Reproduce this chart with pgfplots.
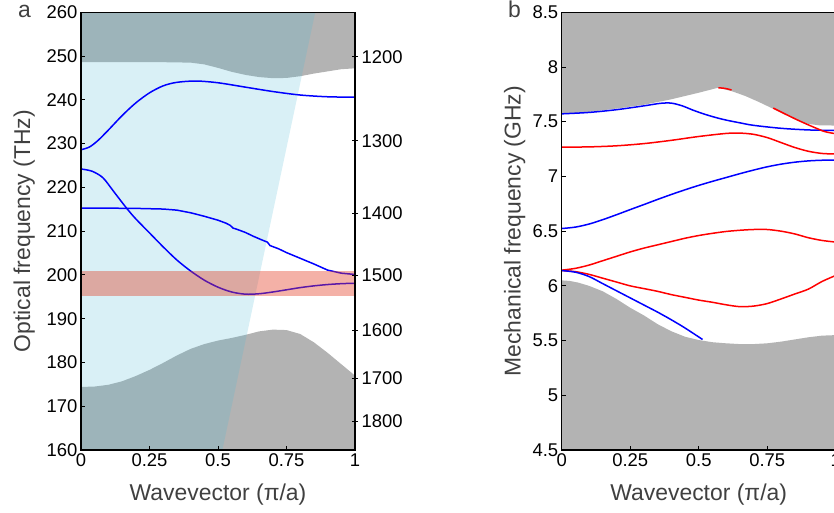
\documentclass[border=0pt]{standalone}
\usepackage{fontspec}
\setmainfont{Liberation Sans}
\usepackage{pgfplots}
\pgfplotsset{compat=1.18}
\definecolor{lcone}{RGB}{82,187,214}
\definecolor{greyc}{RGB}{179,179,179}
\definecolor{bandc}{RGB}{227,60,35}
\definecolor{labc}{RGB}{64,64,64}
\definecolor{myblue}{RGB}{0,0,255}
\definecolor{myred}{RGB}{255,0,0}
\pgfplotsset{
  base/.style={
    scale only axis, width=274bp, height=437.7bp,
    xmin=0, xmax=1,
    axis on top,
    axis line style={line width=1.5bp, black},
    every tick/.style={black, line width=1bp},
    major tick length=4bp,
    tick align=inside,
    xtick pos=bottom, ytick pos=left,
    xtick={0,0.25,0.5,0.75,1},
    xticklabels={0,0.25,0.5,0.75,1},
    tick label style={font=\fontsize{18.5}{20}\selectfont, black},
    label style={font=\fontsize{23}{26}\selectfont, text=labc},
    /pgf/number format/assume math mode=true,
    xlabel={Wavevector (π/a)},
    xlabel style={at={(axis description cs:0.5,-0.1165)}, anchor=base},
    clip=true,
  },
  curve/.style={line width=1.5bp, smooth},
}
\begin{document}
\begin{tikzpicture}
\useasboundingbox (0,0) rectangle (834bp,513bp);
% ---------------- panel a ----------------
\begin{axis}[base, at={(81bp,63bp)}, anchor=south west,
  ymin=160, ymax=260, ytick={160,170,...,260},
  ylabel={Optical frequency (THz)},
  ylabel style={at={(axis description cs:-0.1861,0.5)}, anchor=base}]
\addplot[fill=greyc, draw=none] coordinates {(0,260)(0,248.6)(0.3,248.6)(0.4,248.5)(0.45,248.1)(0.5,247.3)(0.55,246.4)(0.6,245.7)(0.65,245.2)(0.7,244.95)(0.75,245.0)(0.8,245.4)(0.85,246.0)(0.9,246.5)(0.95,247.0)(1,247.2)(1,260)};
\addplot[fill=greyc, draw=none] coordinates {(0,160)(0,174.4)(0.05,174.5)(0.1,174.9)(0.15,175.7)(0.2,176.9)(0.25,178.3)(0.3,179.9)(0.35,181.6)(0.4,183.1)(0.45,184.2)(0.5,185.0)(0.55,185.6)(0.6,186.3)(0.65,187.1)(0.7,187.5)(0.75,187.4)(0.8,186.5)(0.85,184.6)(0.9,182.2)(0.95,179.6)(1,177.0)(1,160)};
\addplot[fill=lcone, fill opacity=0.22, draw=none] coordinates {(0,160)(0.516,160)(0.855,260)(0,260)};
\addplot[curve, myblue] coordinates {(0,228.6)(0.03,229.2)(0.06,230.6)(0.1,233.1)(0.15,236.4)(0.2,239.3)(0.25,241.6)(0.3,243.2)(0.35,244.0)(0.42,244.3)(0.5,243.9)(0.6,242.9)(0.7,241.9)(0.8,241.1)(0.9,240.7)(1,240.6)};
\addplot[curve, myblue] coordinates {(0,224.2)(0.04,223.7)(0.08,222.2)(0.12,219.0)(0.167,215.2)(0.2,212.8)(0.25,209.6)(0.3,206.4)(0.35,203.4)(0.4,200.9)(0.45,198.8)(0.5,197.2)(0.55,196.1)(0.6,195.6)(0.65,195.7)(0.7,196.1)(0.75,196.6)(0.8,197.1)(0.85,197.5)(0.9,197.8)(0.95,198.0)(1,198.1)};
\addplot[line width=1.5bp, myblue] coordinates {(0,215.25)(0.1,215.25)(0.2,215.2)(0.3,215.05)(0.35,214.8)(0.4,214.2)(0.45,213.4)(0.5,212.5)(0.53,211.8)(0.545,211.3)(0.555,210.7)(0.57,210.4)(0.6,209.7)(0.63,208.8)(0.66,208.0)(0.68,207.5)(0.69,206.7)(0.72,206.0)(0.75,205.1)(0.8,203.8)(0.85,202.5)(0.9,201.1)(0.95,200.4)(1,200.1)};
\addplot[fill=bandc, fill opacity=0.4, draw=none] coordinates {(0,195.2)(1,195.2)(1,200.8)(0,200.8)};
\node[rotate=-90, anchor=base, font=\fontsize{23}{26}\selectfont, text=labc] at (axis description cs:1.1861,0.5) {Wavelength (nm)};
\end{axis}
% right wavelength axis
\begin{axis}[scale only axis, width=274bp, height=437.7bp, at={(81bp,63bp)}, anchor=south west,
  xmin=0, xmax=1, ymin=160, ymax=260,
  axis x line=none, axis y line*=right,
  axis line style={line width=1.5bp, black},
  every tick/.style={black, line width=1bp},
  major tick length=6bp, tick align=center,
  ytick={249.827,230.610,214.137,199.862,187.370,176.348,166.551},
  yticklabels={1200,1300,1400,1500,1600,1700,1800},
  tick label style={font=\fontsize{18.5}{20}\selectfont, black},
  /pgf/number format/assume math mode=true]
\addplot[draw=none] coordinates {(0,200)};
\end{axis}
% ---------------- panel b ----------------
\begin{axis}[base, at={(561.7bp,63bp)}, anchor=south west,
  ymin=4.5, ymax=8.5, ytick={4.5,5,5.5,6,6.5,7,7.5,8,8.5},
  yticklabels={4.5,5,5.5,6,6.5,7,7.5,8,8.5},
  ylabel={Mechanical frequency (GHz)},
  ylabel style={at={(axis description cs:-0.1496,0.5)}, anchor=base}]
\addplot[fill=greyc, draw=none] coordinates {(0,8.5)(0,7.57)(0.1,7.59)(0.2,7.62)(0.3,7.655)(0.4,7.705)(0.5,7.765)(0.57,7.81)(0.62,7.78)(0.67,7.735)(0.72,7.68)(0.77,7.62)(0.82,7.56)(0.86,7.51)(0.9,7.48)(0.94,7.467)(1,7.465)(1,8.5)};
\addplot[fill=greyc, draw=none] coordinates {(0,4.5)(0,6.05)(0.03,6.045)(0.06,6.03)(0.1,6.0)(0.15,5.95)(0.2,5.88)(0.25,5.80)(0.3,5.73)(0.35,5.65)(0.4,5.585)(0.45,5.535)(0.5,5.505)(0.55,5.485)(0.6,5.475)(0.65,5.468)(0.7,5.468)(0.75,5.475)(0.8,5.49)(0.85,5.51)(0.9,5.53)(0.95,5.545)(1,5.55)(1,4.5)};
\addplot[curve, myblue] coordinates {(0,7.572)(0.1,7.585)(0.2,7.61)(0.3,7.645)(0.36,7.668)(0.4,7.67)(0.44,7.645)(0.48,7.605)(0.52,7.57)(0.56,7.54)(0.6,7.515)(0.65,7.49)(0.7,7.467)(0.8,7.44)(0.9,7.425)(1,7.42)};
\addplot[curve, myred] coordinates {(0.572,7.81)(0.595,7.805)(0.62,7.79)};
\addplot[curve, myred] coordinates {(0.772,7.625)(0.82,7.565)(0.87,7.505)(0.92,7.45)(0.96,7.41)(1,7.39)};
\addplot[curve, myred] coordinates {(0,7.268)(0.1,7.27)(0.2,7.28)(0.3,7.30)(0.4,7.33)(0.5,7.365)(0.6,7.393)(0.65,7.396)(0.7,7.385)(0.75,7.355)(0.8,7.31)(0.85,7.265)(0.9,7.23)(0.95,7.21)(1,7.205)};
\addplot[curve, myblue] coordinates {(0,6.524)(0.05,6.537)(0.1,6.565)(0.15,6.605)(0.2,6.65)(0.25,6.697)(0.3,6.743)(0.35,6.79)(0.4,6.835)(0.45,6.878)(0.5,6.918)(0.55,6.955)(0.6,6.99)(0.65,7.025)(0.7,7.058)(0.75,7.088)(0.8,7.112)(0.85,7.13)(0.9,7.142)(0.95,7.148)(1,7.15)};
\addplot[curve, myred] coordinates {(0,6.143)(0.05,6.16)(0.1,6.19)(0.15,6.23)(0.2,6.27)(0.25,6.31)(0.3,6.345)(0.35,6.375)(0.4,6.405)(0.45,6.435)(0.5,6.46)(0.55,6.48)(0.6,6.497)(0.65,6.508)(0.7,6.515)(0.75,6.515)(0.8,6.50)(0.85,6.475)(0.9,6.44)(0.95,6.415)(1,6.40)};
\addplot[curve, myred] coordinates {(0,6.14)(0.05,6.13)(0.1,6.105)(0.15,6.07)(0.2,6.035)(0.25,6.0)(0.3,5.975)(0.35,5.95)(0.4,5.92)(0.45,5.895)(0.5,5.87)(0.55,5.85)(0.6,5.827)(0.65,5.81)(0.7,5.815)(0.75,5.838)(0.8,5.88)(0.85,5.925)(0.9,5.97)(0.95,6.04)(1,6.095)};
\addplot[curve, myblue] coordinates {(0,6.14)(0.05,6.125)(0.1,6.085)(0.15,6.02)(0.2,5.955)(0.25,5.89)(0.3,5.825)(0.35,5.76)(0.4,5.69)(0.45,5.615)(0.514,5.51)};
\end{axis}
\node[anchor=base west, font=\fontsize{23}{26}\selectfont, text=labc, inner sep=0pt] at (18bp,495bp) {a};
\node[anchor=base west, font=\fontsize{23}{26}\selectfont, text=labc, inner sep=0pt] at (508bp,495bp) {b};
\end{tikzpicture}
\end{document}
